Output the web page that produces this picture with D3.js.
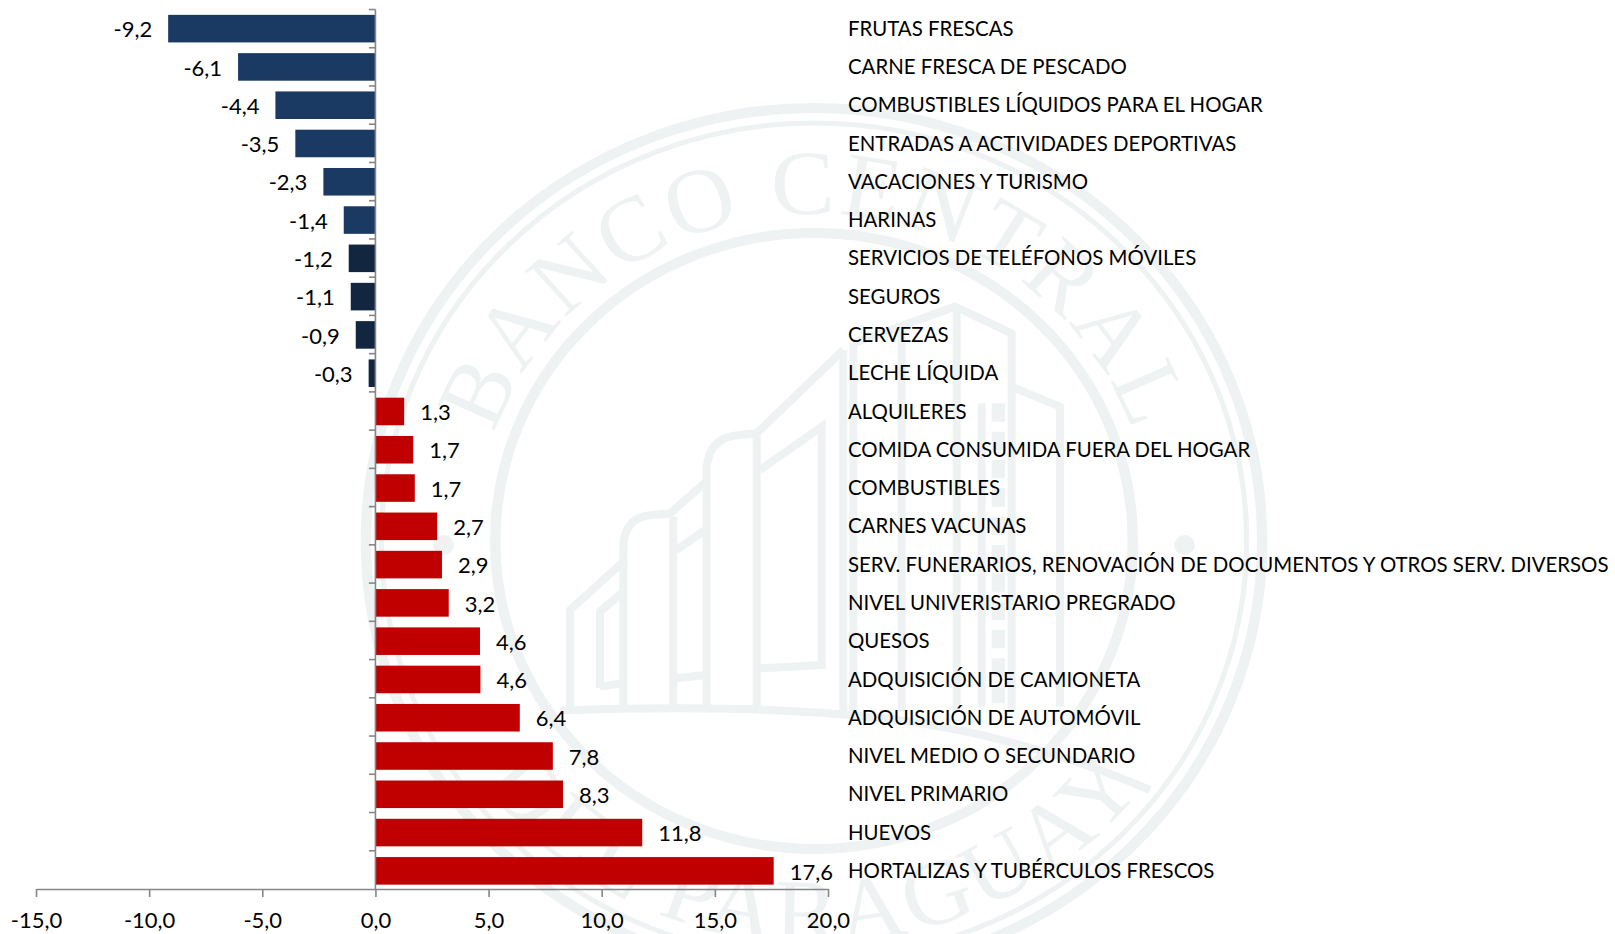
<!DOCTYPE html>
<html><head><meta charset="utf-8">
<script src="https://cdn.jsdelivr.net/npm/d3@7"></script>
<style>html,body{margin:0;padding:0;background:#fff;overflow:hidden}svg{display:block}text{font-family:Lato,sans-serif}</style>
</head><body><svg id="c" width="1615" height="934"></svg>
<script>
const categories=["FRUTAS FRESCAS","CARNE FRESCA DE PESCADO","COMBUSTIBLES LÍQUIDOS PARA EL HOGAR","ENTRADAS A ACTIVIDADES DEPORTIVAS","VACACIONES Y TURISMO","HARINAS","SERVICIOS DE TELÉFONOS MÓVILES","SEGUROS","CERVEZAS","LECHE LÍQUIDA","ALQUILERES","COMIDA CONSUMIDA FUERA DEL HOGAR","COMBUSTIBLES","CARNES VACUNAS","SERV. FUNERARIOS, RENOVACIÓN DE DOCUMENTOS Y OTROS SERV. DIVERSOS","NIVEL UNIVERISTARIO PREGRADO","QUESOS","ADQUISICIÓN DE CAMIONETA","ADQUISICIÓN DE AUTOMÓVIL","NIVEL MEDIO O SECUNDARIO","NIVEL PRIMARIO","HUEVOS","HORTALIZAS Y TUBÉRCULOS FRESCOS"];
const values=[-9.16,-6.07,-4.42,-3.54,-2.3,-1.4,-1.18,-1.09,-0.87,-0.3,1.27,1.67,1.74,2.73,2.94,3.24,4.62,4.64,6.38,7.84,8.29,11.79,17.6];
const xTicks=[-15,-10,-5,0,5,10,15,20];
const fmt=v=>v.toFixed(1).replace(".",",");

const svg=d3.select("#c");
const x=d3.scaleLinear().domain([-15,20]).range([36,828]);
const y=d3.scaleBand().domain(categories).range([9.5,890]).paddingInner(0.28).paddingOuter(0.14);

// watermark seal
const wm="#eef2f2";
const seal=svg.append("g").attr("transform","translate(814,541) scale(1.035,1)");
[[433,10],[418,5],[308,10]].forEach(([r,w])=>seal.append("circle").attr("r",r).attr("fill","none").attr("stroke",wm).attr("stroke-width",w));
const defs=svg.append("defs");
defs.append("path").attr("id","arcTop").attr("d","M-327,0A327,327 0 0 1 327,0");
defs.append("path").attr("id","arcBot").attr("d","M-402,0A402,402 0 0 0 402,0");
const sealText=(id,t,fs,ls)=>seal.append("text").attr("font-size",fs).attr("letter-spacing",ls).attr("fill",wm).attr("text-anchor","middle")
 .style("font-family","'Liberation Serif',serif").append("textPath").attr("href","#"+id).attr("startOffset","50%").text(t);
sealText("arcTop","BANCO CENTRAL",92,3);
sealText("arcBot","DEL PARAGUAY",92,4);
seal.append("circle").attr("cx",358).attr("cy",4).attr("r",10).attr("fill",wm);
seal.append("circle").attr("cx",-358).attr("cy",4).attr("r",10).attr("fill",wm);

const building=svg.append("g").attr("transform","translate(550,290) scale(0.3333)")
 .attr("fill","none").attr("stroke",wm).attr("stroke-width",24);
[
 "M60,1255L60,960L220,815L220,770Q225,680 305,675L360,670L470,575L470,530Q480,440 570,435L620,430L880,180",
 "M220,815L220,1255","M370,680L370,1255","M470,575L470,1255","M620,430L620,1255",
 "M150,1195L150,965L215,910","M150,1190L215,1180","M380,780L465,720","M380,1165L465,1155",
 "M630,540L815,410L815,1125L630,1135",
 "M880,180L880,1265","M910,160L1215,50L1385,130L1385,1265","M910,160L910,1265","M1055,110L1055,1265","M1220,60L1220,1265",
 "M1385,290L1530,350L1530,1250","M1295,340L1295,1250",
 "M30,1262Q600,1240 1000,1285T1800,1500"
].forEach(d=>building.append("path").attr("d",d));
building.append("path").attr("d","M1345,340L1345,1240").attr("stroke-width",40).attr("stroke-dasharray","55 30");

// bars
const bars=categories.map((c,i)=>({c,v:values[i],i}));
const color=d=>d.v>0?"#c00000":(d.i<6?"#1a3a63":"#12263f");
svg.append("g").selectAll("rect").data(bars).join("rect")
 .attr("x",d=>Math.min(x(0),x(d.v))).attr("width",d=>Math.abs(x(d.v)-x(0)))
 .attr("y",d=>y(d.c)).attr("height",y.bandwidth()).attr("fill",color);

// value labels
svg.append("g").selectAll("text").data(bars).join("text")
 .attr("x",d=>d.v<0?x(d.v)-16:x(d.v)+16)
 .attr("y",d=>y(d.c)+y.bandwidth()/2+1).attr("dy","0.35em")
 .attr("text-anchor",d=>d.v<0?"end":"start").attr("font-size",22).attr("fill","#000").text(d=>fmt(d.v));

// category labels
svg.append("g").selectAll("text").data(bars).join("text")
 .attr("x",848).attr("y",d=>y(d.c)+y.bandwidth()/2).attr("dy","0.35em")
 .attr("font-size",20.4).attr("fill","#000").text(d=>d.c);

// axes
const xAxis=svg.append("g").attr("transform","translate(0,889)").call(d3.axisBottom(x).tickValues(xTicks).tickFormat(fmt).tickSize(8).tickPadding(15).tickSizeOuter(0));
xAxis.selectAll("text").attr("font-size",22).attr("fill","#000").style("font-family","Lato,sans-serif");
xAxis.selectAll("line,path").attr("stroke","#868686").attr("stroke-width",1.6);
const edge=d3.scaleBand().domain(categories).range([9.5,889]);
const yAxis=svg.append("g").attr("transform",`translate(${x(0)},0)`);
yAxis.append("line").attr("y1",9.5).attr("y2",889).attr("stroke","#868686").attr("stroke-width",1.6);
yAxis.selectAll("line.t").data(categories).join("line").attr("class","t").attr("x1",-6.5).attr("x2",0)
 .attr("y1",d=>edge(d)).attr("y2",d=>edge(d)).attr("stroke","#868686").attr("stroke-width",1.6);
</script></body></html>
